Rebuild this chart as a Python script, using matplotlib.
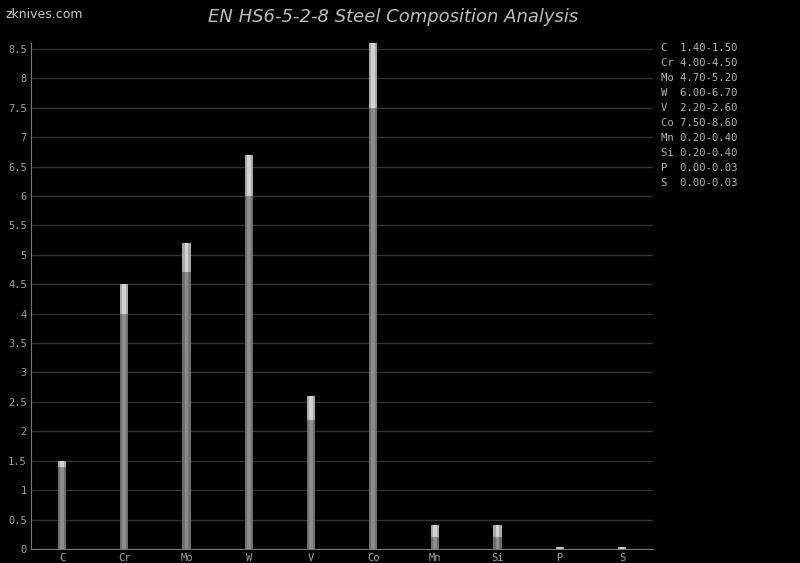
import numpy as np
import matplotlib.pyplot as plt
from matplotlib.ticker import FuncFormatter, MultipleLocator

# Composition ranges (wt %)
elements = ['C', 'Cr', 'Mo', 'W', 'V', 'Co', 'Mn', 'Si', 'P', 'S']
min_pct = [1.40, 4.00, 4.70, 6.00, 2.20, 7.50, 0.20, 0.20, 0.00, 0.00]
max_pct = [1.50, 4.50, 5.20, 6.70, 2.60, 8.60, 0.40, 0.40, 0.03, 0.03]

mono = 'DejaVu Sans Mono'

fig = plt.figure(figsize=(8, 5.63), dpi=100, facecolor='black')
ax = fig.add_axes([0.03875, 0.0249, 0.7775, 0.8987], facecolor='black')

x = np.arange(len(elements))
lo = np.array(min_pct)
span = np.array(max_pct) - lo

# outer bar + lighter core to mimic the shaded columns
w = 0.13
ax.bar(x, lo, width=w, color='#6e6e6e', zorder=3)
ax.bar(x, lo, width=w * 0.45, color='#8c8c8c', zorder=4)
ax.bar(x, span, bottom=lo, width=w, color='#a8a8a8', zorder=3)
ax.bar(x, span, bottom=lo, width=w * 0.45, color='#d2d2d2', zorder=4)

ax.set_xlim(-0.5, len(elements) - 0.5)
ax.set_ylim(0, 8.6)
ax.yaxis.set_major_locator(MultipleLocator(0.5))
ax.yaxis.set_major_formatter(FuncFormatter(lambda v, p: f'{v:g}'))
ax.grid(axis='y', color='#333333', linewidth=1, zorder=0)
ax.set_xticks(x)
ax.set_xticklabels(elements)
ax.tick_params(colors='#a0a0a0', labelsize=7.5, length=0, pad=3)
for lab in ax.get_xticklabels() + ax.get_yticklabels():
    lab.set_fontfamily(mono)
for s in ['top', 'right']:
    ax.spines[s].set_visible(False)
for s in ['left', 'bottom']:
    ax.spines[s].set_color('#777777')

# range list on the right
for i, el in enumerate(elements):
    fig.text(661 / 800, 1 - (48 + 15 * i) / 563,
             f'{el:<2} {min_pct[i]:.2f}-{max_pct[i]:.2f}',
             family=mono, fontsize=7.6, color='#b4b4b4', va='center', ha='left')

fig.text(393 / 800, 1 - 17 / 563, 'EN HS6-5-2-8 Steel Composition Analysis',
         fontsize=13, style='italic', color='#bdbdbd', ha='center', va='center')
fig.text(5 / 800, 1 - 15 / 563, 'zknives.com', fontsize=9, color='#c8c8c8',
         ha='left', va='center')

fig.savefig('out.png', dpi=100, facecolor='black')
